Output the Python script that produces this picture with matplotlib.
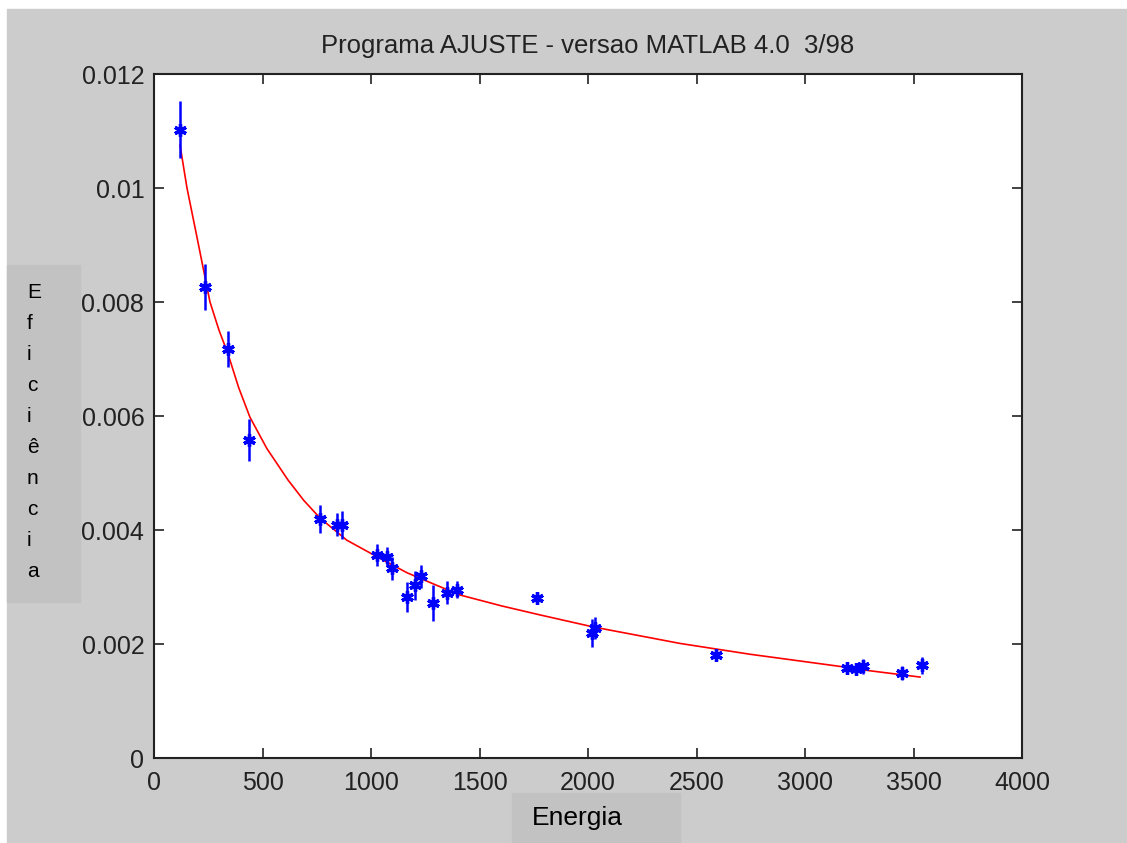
import matplotlib
matplotlib.use("Agg")
import matplotlib.pyplot as plt
from matplotlib.patches import Rectangle

# measured points (energy, efficiency, error)
energy = [120, 235, 341, 438, 767, 843, 866, 1027, 1074, 1096, 1166, 1203,
          1230, 1286, 1350, 1396, 1765, 2018, 2032, 2590, 3194, 3235, 3267,
          3447, 3539]
efficiency = [0.01102, 0.00826, 0.00718, 0.00558, 0.00419, 0.00409, 0.00409,
              0.00356, 0.00353, 0.00333, 0.00283, 0.00303, 0.00319, 0.00272,
              0.00290, 0.00295, 0.00280, 0.00219, 0.00228, 0.00181, 0.00158,
              0.00156, 0.00161, 0.00149, 0.00163]
eff_err = [0.0005, 0.0004, 0.00032, 0.00037, 0.00025, 0.0002, 0.00025,
           0.0002, 0.00017, 0.0002, 0.00026, 0.00025, 0.0002, 0.00032,
           0.0002, 0.00015, 0.0001, 0.00025, 0.0002, 0.00007, 0.0001,
           0.0001, 0.00013, 0.00013, 0.00015]

# fitted curve
fit_energy = [120, 152, 200, 258, 300, 341, 390, 442, 520, 617, 690, 765,
              889, 1028, 1166, 1290, 1410, 1600, 1779, 2023, 2286, 2424,
              2594, 2747, 3000, 3194, 3300, 3530]
fit_eff = [0.01075, 0.0100, 0.0091, 0.0080, 0.0075, 0.00709, 0.0065,
           0.00598, 0.00543, 0.00488, 0.00452, 0.00421, 0.00382, 0.00353,
           0.00325, 0.00305, 0.00286, 0.00267, 0.00251, 0.00230, 0.00211,
           0.00201, 0.00191, 0.00182, 0.00169, 0.00159, 0.00153, 0.00142]

x_ticks = [0, 500, 1000, 1500, 2000, 2500, 3000, 3500, 4000]
y_ticks = [0, 0.002, 0.004, 0.006, 0.008, 0.010, 0.012]
y_tick_labels = ["0", "0.002", "0.004", "0.006", "0.008", "0.01", "0.012"]

W, H = 1127, 843
fig = plt.figure(figsize=(W / 100, H / 100), dpi=100, facecolor="white")
plt.rcParams["font.family"] = ["Liberation Sans", "DejaVu Sans"]

# gray figure area and label boxes
fig.patches.append(Rectangle((7 / W, 0), 1 - 7 / W, (H - 9) / H,
                             transform=fig.transFigure, color="#cccccc", zorder=-2))
fig.patches.append(Rectangle((7 / W, (H - 602) / H), 73 / W, 337 / H,
                             transform=fig.transFigure, color="#c2c2c2", zorder=-1))
fig.patches.append(Rectangle((512 / W, 0), 168 / W, 50 / H,
                             transform=fig.transFigure, color="#c2c2c2", zorder=-1))

ax = fig.add_axes([154 / W, 85 / H, 868 / W, 684 / H])
ax.set_zorder(3)
ax.set_facecolor("white")

ax.plot(fit_energy, fit_eff, color="red", lw=1.2, zorder=2)
ax.errorbar(energy, efficiency, yerr=eff_err, fmt="none", ecolor="blue",
            elinewidth=1.8, capsize=0, zorder=3)
ax.plot(energy, efficiency, ls="none", marker=(6, 2, 0), ms=9, mew=2.4,
        color="blue", zorder=4)

ax.set_xlim(0, 4000)
ax.set_ylim(0, 0.012)
ax.set_xticks(x_ticks)
ax.set_yticks(y_ticks)
ax.set_yticklabels(y_tick_labels)
ax.tick_params(direction="in", length=7, width=1.2, top=True, right=True,
               labelsize=18, colors="#222222")
ax.tick_params(axis="x", pad=9)
ax.tick_params(axis="y", pad=7)
for s in ax.spines.values():
    s.set_linewidth(1.5)
    s.set_color("#222222")

ax.set_title("Programa AJUSTE - versao MATLAB 4.0  3/98", fontsize=18.5,
             color="#222222", pad=15)

fig.text(27 / W, (H - 283) / H, "\n".join("Eficiência"), fontsize=15,
         ha="left", va="top", linespacing=1.8, zorder=5)
fig.text(532 / W, (H - 818) / H, "Energia", fontsize=19, ha="left",
         va="center", zorder=5)

fig.savefig("out.png", dpi=100, facecolor=fig.get_facecolor())
